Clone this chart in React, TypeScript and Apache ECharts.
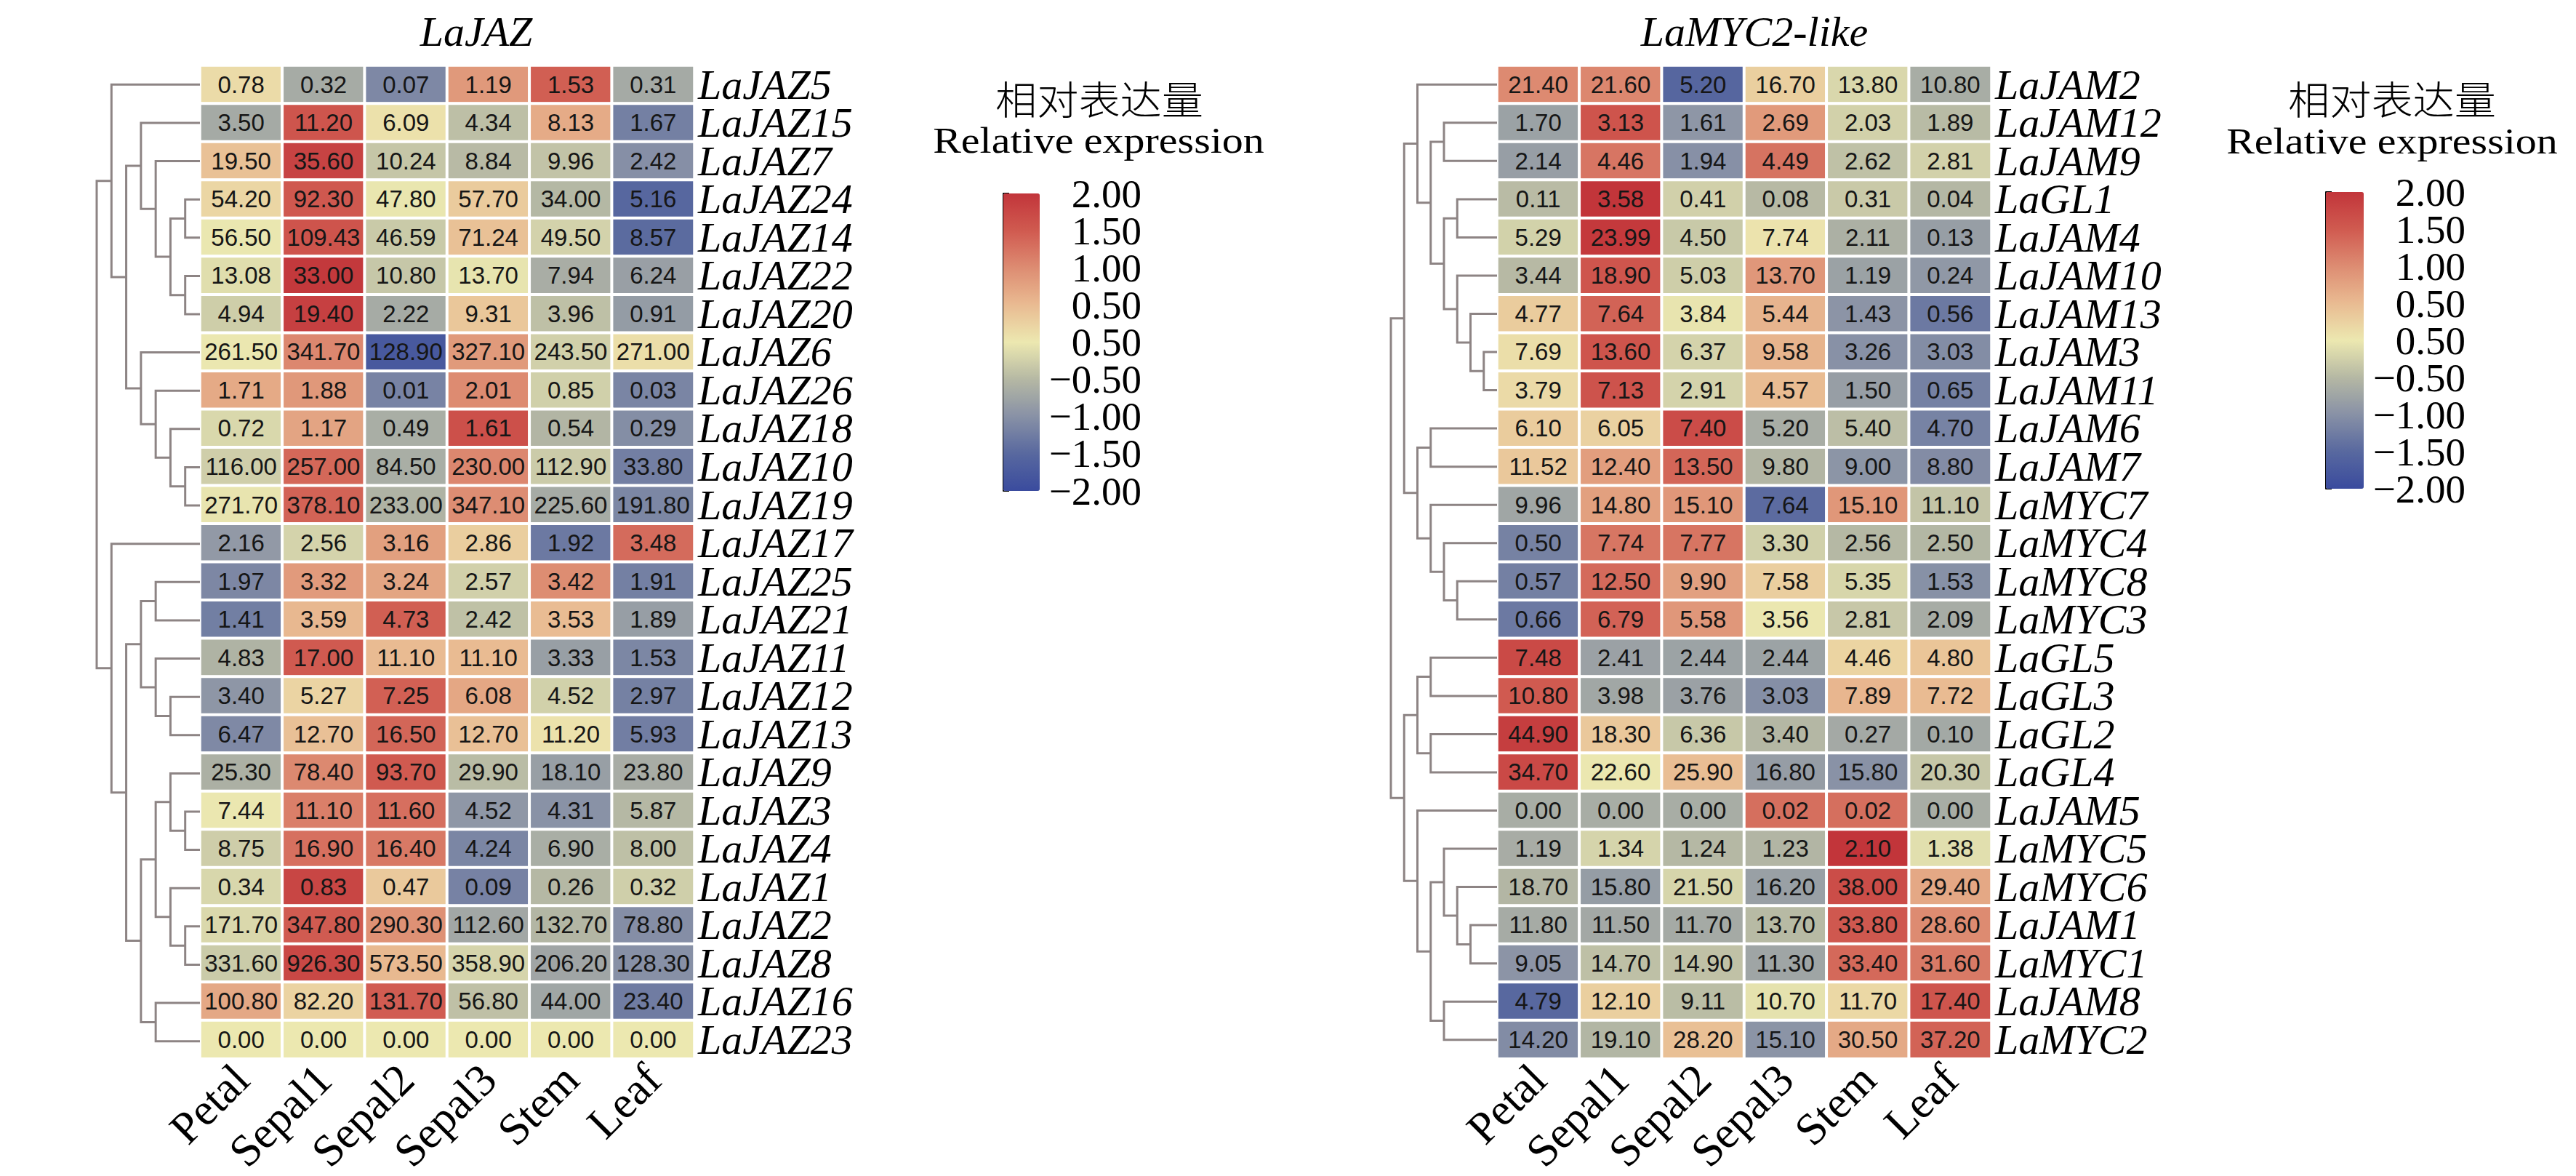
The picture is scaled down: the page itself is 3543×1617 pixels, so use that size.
import React, { useEffect, useRef } from "react";
import * as echarts from "echarts";

const tissues = ["Petal", "Sepal1", "Sepal2", "Sepal3", "Stem", "Leaf"];

const jazGenes = [
  "LaJAZ5", "LaJAZ15", "LaJAZ7", "LaJAZ24", "LaJAZ14", "LaJAZ22", "LaJAZ20", "LaJAZ6", "LaJAZ26",
  "LaJAZ18", "LaJAZ10", "LaJAZ19", "LaJAZ17", "LaJAZ25", "LaJAZ21", "LaJAZ11", "LaJAZ12", "LaJAZ13",
  "LaJAZ9", "LaJAZ3", "LaJAZ4", "LaJAZ1", "LaJAZ2", "LaJAZ8", "LaJAZ16", "LaJAZ23",
];

const jazValues = [
  [0.78, 0.32, 0.07, 1.19, 1.53, 0.31],
  [3.5, 11.2, 6.09, 4.34, 8.13, 1.67],
  [19.5, 35.6, 10.24, 8.84, 9.96, 2.42],
  [54.2, 92.3, 47.8, 57.7, 34.0, 5.16],
  [56.5, 109.43, 46.59, 71.24, 49.5, 8.57],
  [13.08, 33.0, 10.8, 13.7, 7.94, 6.24],
  [4.94, 19.4, 2.22, 9.31, 3.96, 0.91],
  [261.5, 341.7, 128.9, 327.1, 243.5, 271.0],
  [1.71, 1.88, 0.01, 2.01, 0.85, 0.03],
  [0.72, 1.17, 0.49, 1.61, 0.54, 0.29],
  [116.0, 257.0, 84.5, 230.0, 112.9, 33.8],
  [271.7, 378.1, 233.0, 347.1, 225.6, 191.8],
  [2.16, 2.56, 3.16, 2.86, 1.92, 3.48],
  [1.97, 3.32, 3.24, 2.57, 3.42, 1.91],
  [1.41, 3.59, 4.73, 2.42, 3.53, 1.89],
  [4.83, 17.0, 11.1, 11.1, 3.33, 1.53],
  [3.4, 5.27, 7.25, 6.08, 4.52, 2.97],
  [6.47, 12.7, 16.5, 12.7, 11.2, 5.93],
  [25.3, 78.4, 93.7, 29.9, 18.1, 23.8],
  [7.44, 11.1, 11.6, 4.52, 4.31, 5.87],
  [8.75, 16.9, 16.4, 4.24, 6.9, 8.0],
  [0.34, 0.83, 0.47, 0.09, 0.26, 0.32],
  [171.7, 347.8, 290.3, 112.6, 132.7, 78.8],
  [331.6, 926.3, 573.5, 358.9, 206.2, 128.3],
  [100.8, 82.2, 131.7, 56.8, 44.0, 23.4],
  [0, 0, 0, 0, 0, 0],
];

const mycGenes = [
  "LaJAM2", "LaJAM12", "LaJAM9", "LaGL1", "LaJAM4", "LaJAM10", "LaJAM13", "LaJAM3", "LaJAM11",
  "LaJAM6", "LaJAM7", "LaMYC7", "LaMYC4", "LaMYC8", "LaMYC3", "LaGL5", "LaGL3", "LaGL2", "LaGL4",
  "LaJAM5", "LaMYC5", "LaMYC6", "LaJAM1", "LaMYC1", "LaJAM8", "LaMYC2",
];

const mycValues = [
  [21.4, 21.6, 5.2, 16.7, 13.8, 10.8],
  [1.7, 3.13, 1.61, 2.69, 2.03, 1.89],
  [2.14, 4.46, 1.94, 4.49, 2.62, 2.81],
  [0.11, 3.58, 0.41, 0.08, 0.31, 0.04],
  [5.29, 23.99, 4.5, 7.74, 2.11, 0.13],
  [3.44, 18.9, 5.03, 13.7, 1.19, 0.24],
  [4.77, 7.64, 3.84, 5.44, 1.43, 0.56],
  [7.69, 13.6, 6.37, 9.58, 3.26, 3.03],
  [3.79, 7.13, 2.91, 4.57, 1.5, 0.65],
  [6.1, 6.05, 7.4, 5.2, 5.4, 4.7],
  [11.52, 12.4, 13.5, 9.8, 9.0, 8.8],
  [9.96, 14.8, 15.1, 7.64, 15.1, 11.1],
  [0.5, 7.74, 7.77, 3.3, 2.56, 2.5],
  [0.57, 12.5, 9.9, 7.58, 5.35, 1.53],
  [0.66, 6.79, 5.58, 3.56, 2.81, 2.09],
  [7.48, 2.41, 2.44, 2.44, 4.46, 4.8],
  [10.8, 3.98, 3.76, 3.03, 7.89, 7.72],
  [44.9, 18.3, 6.36, 3.4, 0.27, 0.1],
  [34.7, 22.6, 25.9, 16.8, 15.8, 20.3],
  [0.0, 0.0, 0.0, 0.02, 0.02, 0.0],
  [1.19, 1.34, 1.24, 1.23, 2.1, 1.38],
  [18.7, 15.8, 21.5, 16.2, 38.0, 29.4],
  [11.8, 11.5, 11.7, 13.7, 33.8, 28.6],
  [9.05, 14.7, 14.9, 11.3, 33.4, 31.6],
  [4.79, 12.1, 9.11, 10.7, 11.7, 17.4],
  [14.2, 19.1, 28.2, 15.1, 30.5, 37.2],
];

// colour bar tick labels, bottom to top (as printed in the figure)
const legendTickLabels = ["−2.00", "−1.50", "−1.00", "−0.50", "0.50", "0.50", "1.00", "1.50", "2.00"];

const colorStops = [
  "#3a4b9e", "#58689f", "#8891a6", "#b5b8a4", "#ece8b0", "#e9bb92", "#dd8c72", "#d05a50", "#c2353a",
];

// dendrograms: leaf = row index, node = [level, left, right]
type Tree = number | [number, Tree, Tree];

const jazTree: Tree = [7,
  [6, 0, [5, [4, 1, [3, 2, [2, [1, 3, 4], [1, 5, 6]]]], [4, 7, [3, 8, [2, 9, [1, 10, 11]]]]]],
  [6, 12, [5, [4, [3, 13, 14], [3, 15, [2, 16, 17]]], [4, [3, [2, 18, [1, 19, 20]], [2, 21, [1, 22, 23]]], [3, 24, 25]]]],
];

const mycTree: Tree = [8,
  [7, [6, 0, [5, [4, 1, 2], [4, [3, 3, 4], [3, 5, [2, 6, [1, 7, 8]]]]]], [6, [5, 9, 10], [5, 11, [4, 12, [3, 13, 14]]]]],
  [7, [6, [5, 15, 16], [5, 17, 18]], [6, 19, [5, [4, 20, [3, 21, [2, 22, 23]]], [4, 24, 25]]]],
];

const serif = "'Liberation Serif', 'Times New Roman', serif";
const sans = "'Liberation Sans', Arial, Helvetica, sans-serif";
const cjk = "'Noto Sans CJK SC', sans-serif";

function zRow(row: number[]): number[] {
  const n = row.length;
  const mean = row.reduce((a, b) => a + b, 0) / n;
  const sd = Math.sqrt(row.reduce((a, b) => a + (b - mean) * (b - mean), 0) / (n - 1));
  return row.map((v) => (sd === 0 ? 0 : Math.max(-2, Math.min(2, (v - mean) / sd))));
}

function heatData(values: number[][]) {
  const out: number[][] = [];
  values.forEach((row, r) => {
    const z = zRow(row);
    row.forEach((v, c) => out.push([c, r, z[c], v]));
  });
  return out;
}

function dendroSegments(tree: Tree) {
  const segs: number[][][] = [];
  const walk = (t: Tree): { x: number; y: number } => {
    if (typeof t === "number") return { x: 0, y: t };
    const [h, a, b] = t;
    const A = walk(a);
    const B = walk(b);
    segs.push([[A.x, A.y], [h, A.y], [h, B.y], [B.x, B.y]]);
    return { x: h, y: (A.y + B.y) / 2 };
  };
  walk(tree);
  return segs.map((coords) => ({ coords }));
}

function heatX(gridIndex: number) {
  return {
    type: "category", gridIndex, data: tissues,
    axisLine: { show: false }, axisTick: { show: false }, splitLine: { show: false },
    axisLabel: { rotate: 45, fontSize: 62, fontFamily: serif, color: "#000", margin: 18, interval: 0 },
  };
}

function heatY(gridIndex: number, genes: string[]) {
  return {
    type: "category", gridIndex, data: genes, inverse: true, position: "right",
    axisLine: { show: false }, axisTick: { show: false }, splitLine: { show: false },
    axisLabel: {
      fontSize: 58, lineHeight: 50, fontStyle: "italic", fontFamily: serif, color: "#000", margin: 5, interval: 0,
    },
  };
}

function dendroX(gridIndex: number, max: number) {
  return { type: "value", gridIndex, min: 0, max, inverse: true, show: false, splitLine: { show: false } };
}

function dendroY(gridIndex: number) {
  return { type: "value", gridIndex, min: -0.5, max: 25.5, inverse: true, show: false, splitLine: { show: false } };
}

function legendX(gridIndex: number) {
  return { type: "value", gridIndex, min: 0, max: 1, show: false, splitLine: { show: false } };
}

function legendY(gridIndex: number) {
  return {
    type: "category", gridIndex, data: legendTickLabels, boundaryGap: false, position: "right",
    splitLine: { show: false },
    axisLine: { show: true, lineStyle: { color: "#000", width: 2 } },
    axisTick: { show: true, length: 8, interval: 0, lineStyle: { color: "#000", width: 2 } },
    axisLabel: {
      interval: 0, margin: 140, align: "right", fontSize: 55, lineHeight: 44, fontFamily: serif, color: "#000",
    },
  };
}

function heatSeries(index: number, values: number[][]) {
  return {
    type: "heatmap", xAxisIndex: index, yAxisIndex: index, data: heatData(values),
    silent: true,
    label: {
      show: true, fontSize: 33, fontFamily: sans, color: "#161616",
      formatter: (p: any) => Number(p.value[3]).toFixed(2),
    },
    itemStyle: { borderColor: "#ffffff", borderWidth: 4 },
    emphasis: { disabled: true },
  };
}

function dendroSeries(index: number, tree: Tree) {
  return {
    type: "lines", coordinateSystem: "cartesian2d", xAxisIndex: index, yAxisIndex: index,
    polyline: true, silent: true, data: dendroSegments(tree),
    lineStyle: { color: "#8d8484", width: 3, opacity: 1, curveness: 0 },
  };
}

function visual(seriesIndex: number, left: number, top: number, w: number, h: number) {
  return {
    type: "continuous", seriesIndex, dimension: 2, min: -2, max: 2,
    calculable: false, hoverLink: false, realtime: false,
    left, top, itemWidth: w, itemHeight: h, padding: 0,
    inRange: { color: colorStops },
  };
}

function txt(text: string, x: number, y: number, fontSize: number, fontFamily: string, extra: any = {}) {
  return {
    type: "text", x, y, silent: true, scaleX: extra.scaleX || 1,
    style: {
      text, fontSize, fontFamily, fill: "#000", align: "center", verticalAlign: "middle",
      fontStyle: extra.fontStyle || "normal", fontWeight: extra.fontWeight || "normal",
    },
  };
}

export default function App() {
  const ref = useRef<HTMLDivElement>(null);

  useEffect(() => {
    if (!ref.current) return;
    const chart = echarts.init(ref.current, undefined, { renderer: "svg" });
    const option: any = {
      animation: false,
      backgroundColor: "#ffffff",
      grid: [
        { left: 275, top: 90, width: 680, height: 1368 },
        { left: 2059, top: 90, width: 680, height: 1366 },
        { left: 133, top: 90, width: 142, height: 1368 },
        { left: 1913, top: 90, width: 146, height: 1366 },
        { left: 1380, top: 266, width: 50, height: 409 },
        { left: 3199, top: 264, width: 52, height: 408 },
      ],
      xAxis: [heatX(0), heatX(1), dendroX(2, 7), dendroX(3, 8), legendX(4), legendX(5)],
      yAxis: [heatY(0, jazGenes), heatY(1, mycGenes), dendroY(2), dendroY(3), legendY(4), legendY(5)],
      visualMap: [visual(0, 1380, 266, 50, 409), visual(1, 3199, 264, 52, 408)],
      series: [
        heatSeries(0, jazValues),
        heatSeries(1, mycValues),
        dendroSeries(2, jazTree),
        dendroSeries(3, mycTree),
      ],
      graphic: [
        txt("LaJAZ", 655, 43, 58, serif, { fontStyle: "italic" }),
        txt("LaMYC2-like", 2413, 43, 58, serif, { fontStyle: "italic" }),
        txt("相对表达量", 1512, 134, 54, cjk, { scaleX: 1.06, fontWeight: 300 }),
        txt("Relative expression", 1511, 193, 50, serif, { scaleX: 1.16 }),
        txt("相对表达量", 3290, 134, 54, cjk, { scaleX: 1.06, fontWeight: 300 }),
        txt("Relative expression", 3290, 194, 50, serif, { scaleX: 1.16 }),
      ],
    };
    chart.setOption(option);
    return () => chart.dispose();
  }, []);

  return (
    <div
      ref={ref}
      style={{ position: "absolute", left: 0, top: 0, width: 3543, height: 1617, background: "#fff" }}
    />
  );
}
